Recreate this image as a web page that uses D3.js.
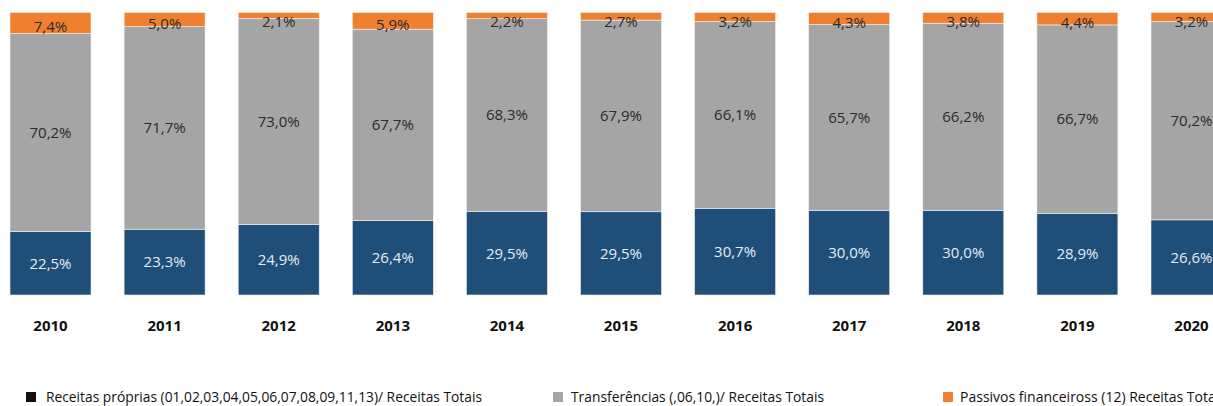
<!DOCTYPE html>
<html><head><meta charset="utf-8">
<script src="https://cdn.jsdelivr.net/npm/d3@7"></script>
<style>body{margin:0;background:#fff;overflow:hidden}svg{display:block}</style>
</head><body>
<svg id="c" width="1213" height="406"></svg>
<script>
const years = ["2010","2011","2012","2013","2014","2015","2016","2017","2018","2019","2020"];
const proprias = [22.5,23.3,24.9,26.4,29.5,29.5,30.7,30.0,30.0,28.9,26.6];
const transferencias = [70.2,71.7,73.0,67.7,68.3,67.9,66.1,65.7,66.2,66.7,70.2];
const passivos = [7.4,5.0,2.1,5.9,2.2,2.7,3.2,4.3,3.8,4.4,3.2];
const seriesNames = ["Receitas próprias (01,02,03,04,05,06,07,08,09,11,13)/ Receitas Totais",
                     "Transferências  (,06,10,)/ Receitas Totais",
                     "Passivos financeiross (12) Receitas Totais"];
const keys = ["proprias","transferencias","passivos"];
const colors = ["#1F4E79","#A5A5A5","#F08030"];
const labelColors = ["#E6ECF2","#2b2b2b","#2b2b2b"];
const legendMarkColors = ["#111111","#A5A5A5","#F08030"];

const rows = years.map((y,i)=>({year:y, proprias:proprias[i], transferencias:transferencias[i], passivos:passivos[i]}));
const stacked = d3.stack().keys(keys).offset(d3.stackOffsetExpand)(rows);

const svg = d3.select("#c");
const x = d3.scaleBand().domain(years).range([10,1232]).paddingInner(0.29).paddingOuter(0);
const y = d3.scaleLinear().domain([0,1]).range([295,12.5]);
const font = "'Open Sans', 'Noto Sans', sans-serif";

const g = svg.append("g");
stacked.forEach((s,si)=>{
  g.selectAll(null).data(s).enter().append("rect")
    .attr("x", d=>x(d.data.year))
    .attr("width", x.bandwidth())
    .attr("y", d=>y(d[1]))
    .attr("height", d=>y(d[0])-y(d[1]))
    .attr("fill", colors[si])
    .attr("stroke", "#f2f2f2").attr("stroke-width", 0.6);
});
stacked.forEach((s,si)=>{
  g.selectAll(null).data(s).enter().append("text")
    .attr("x", d=>x(d.data.year)+x.bandwidth()/2)
    .attr("y", d=>{
      const c = (y(d[0])+y(d[1]))/2;
      return si===2 ? Math.max(c+4, 21.5) : c;
    })
    .attr("dy","0.35em")
    .attr("text-anchor","middle")
    .attr("font-family", font)
    .attr("font-size", 15)
    .attr("fill", labelColors[si])
    .text(d=>d.data[keys[si]].toFixed(1).replace(".",",")+"%");
});

// x axis labels
const xAxis = d3.axisBottom(x).tickSize(0).tickPadding(0);
const ax = svg.append("g").attr("transform","translate(0,322)").call(xAxis);
ax.select(".domain").remove();
ax.selectAll("text").attr("font-family", font).attr("font-size", 15)
  .attr("font-weight","bold").attr("fill","#111").attr("dy","0.6em");

// legend
const legX = [26, 553, 943];
const legTextW = [436, 253, 266];
const lg = svg.append("g");
seriesNames.forEach((n,i)=>{
  lg.append("rect").attr("x",legX[i]).attr("y",392).attr("width",10).attr("height",10).attr("fill",legendMarkColors[i]);
  lg.append("text").attr("x",legX[i]+(i===2?17:(i===0?20:18))).attr("y",402)
    .attr("font-family", font).attr("font-size",14.5).attr("fill","#111")
    .attr("textLength", legTextW[i]).attr("lengthAdjust","spacingAndGlyphs")
    .text(n);
});
</script>
</body></html>
